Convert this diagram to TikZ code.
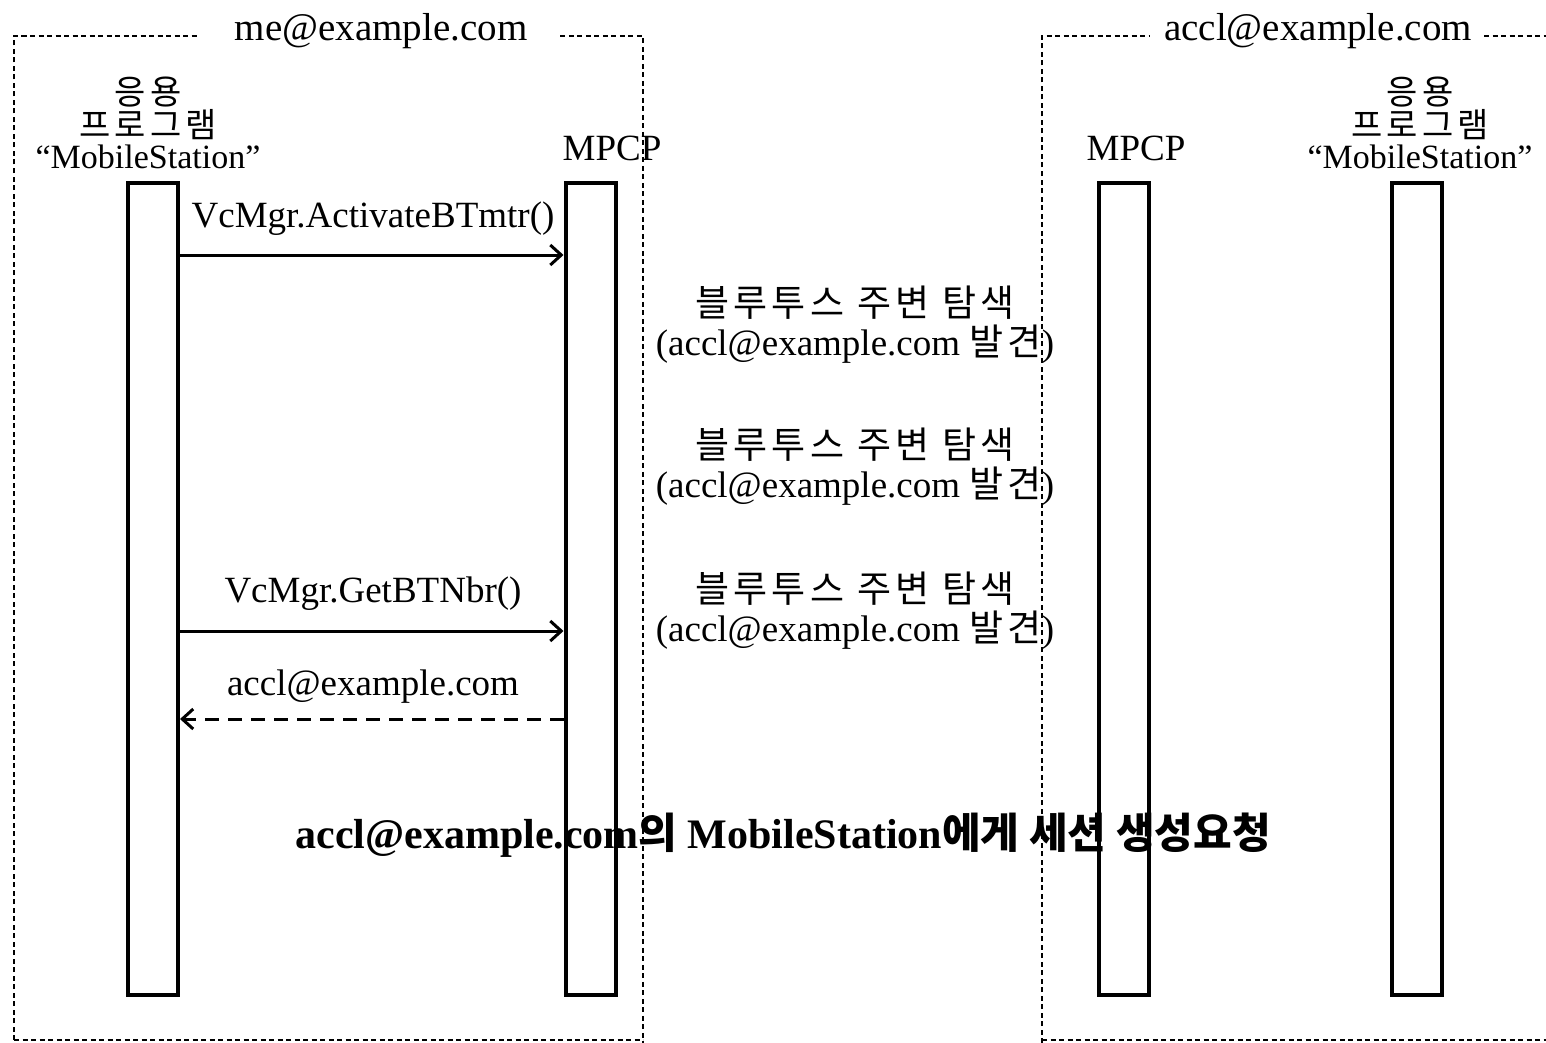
\documentclass[tikz,border=0pt]{standalone}
\usepackage{fontspec}
\setmainfont{Liberation Serif}
\newfontfamily\kr{Noto Sans CJK KR}[LetterSpace=12]
\newfontfamily\krb{Noto Sans CJK KR}
\usetikzlibrary{arrows.meta}
\tikzset{
  life/.style={draw, line width=4pt, minimum width=50pt, minimum height=812pt, inner sep=0pt},
  frame/.style={line width=1.6pt, dash pattern=on 5pt off 3.5pt},
  msg/.style={line width=3pt, -{Straight Barb[length=11pt,width=20pt,line width=3pt]}},
  reply/.style={msg, dash pattern=on 14pt off 9pt},
  top/.style={font=\fontsize{39}{40}\selectfont, inner sep=0pt},
  lbl/.style={font=\fontsize{37}{38}\selectfont, inner sep=0pt},
  hdr/.style={font=\fontsize{34}{33}\selectfont, align=center, inner sep=0pt},
  note/.style={font=\fontsize{37}{39}\selectfont, align=center, inner sep=0pt},
  big/.style={font=\bfseries\fontsize{42}{44}\selectfont, inner sep=0pt}
}
\begin{document}
\begin{tikzpicture}[x=1pt,y=-1pt]
\useasboundingbox (0,0) rectangle (1546,1043);
% frames
\coordinate (LTL) at (14,36);
\coordinate (LTR) at (643,36);
\coordinate (LBL) at (14,1040);
\coordinate (LBR) at (643,1043);
\coordinate (RTL) at (1042,36);
\coordinate (RTR) at (1546,36);
\coordinate (RBL) at (1042,1043);
\coordinate (RBR) at (1546,1040);
\node[top] (me) at (381,31) {me@example.com};
\node[top] (acc) at (1318,31) {accl@example.com};
\draw[frame] (LBL) -- (LTL) -- ([xshift=-35pt]me.west |- LTL);
\draw[frame] ([xshift=33pt]me.east |- LTL) -- (LTR) -- (LBR);
\draw[frame] (LBL) -- (LBL -| LBR);
\draw[frame] (RBL) -- (RTL) -- ([xshift=-15pt]acc.west |- RTL);
\draw[frame] ([xshift=12pt]acc.east |- RTL) -- (RTR);
\draw[frame] (RBL |- RBR) -- (RBR);
% lifelines
\node[life] (app1) at (153,589) {};
\node[life] (mpcp1) at (590.5,589) {};
\node[life] (mpcp2) at (1123.5,589) {};
\node[life] (app2) at (1417,589) {};
% headers
\node[hdr] (h1) at (148,123) {{\kr 응용}\\{\kr 프로그램}\\[-2pt]“MobileStation”};
\node[lbl] (h2) at (612,148) {MPCP};
\node[lbl] (h3) at (1136,148) {MPCP};
\node[hdr] (h4) at (1420,123) {{\kr 응용}\\{\kr 프로그램}\\[-2pt]“MobileStation”};
% messages
\coordinate (r1) at (0,255);
\coordinate (r2) at (0,631);
\coordinate (r3) at (0,719);
\draw[msg] (app1.east |- r1) -- (mpcp1.west |- r1);
\draw[msg] (app1.east |- r2) -- (mpcp1.west |- r2);
\draw[reply] (mpcp1.west |- r3) -- (app1.east |- r3);
\node[lbl] (m1) at (373,219) {VcMgr.ActivateBTmtr()};
\node[lbl] (m2) at (373,594) {VcMgr.GetBTNbr()};
\node[lbl] (m3) at (373,687) {accl@example.com};
% notes
\node[note] (n1) at (855,325) {{\kr 블루투스 주변 탐색}\\(accl@example.com {\kr 발견})};
\node[note] (n2) at (855,467) {{\kr 블루투스 주변 탐색}\\(accl@example.com {\kr 발견})};
\node[note] (n3) at (855,611) {{\kr 블루투스 주변 탐색}\\(accl@example.com {\kr 발견})};
% big text
\node[big] (b) at (783,835) {accl@example.com{\krb 의} MobileStation{\krb 에게 세션 생성요청}};
\end{tikzpicture}
\end{document}
